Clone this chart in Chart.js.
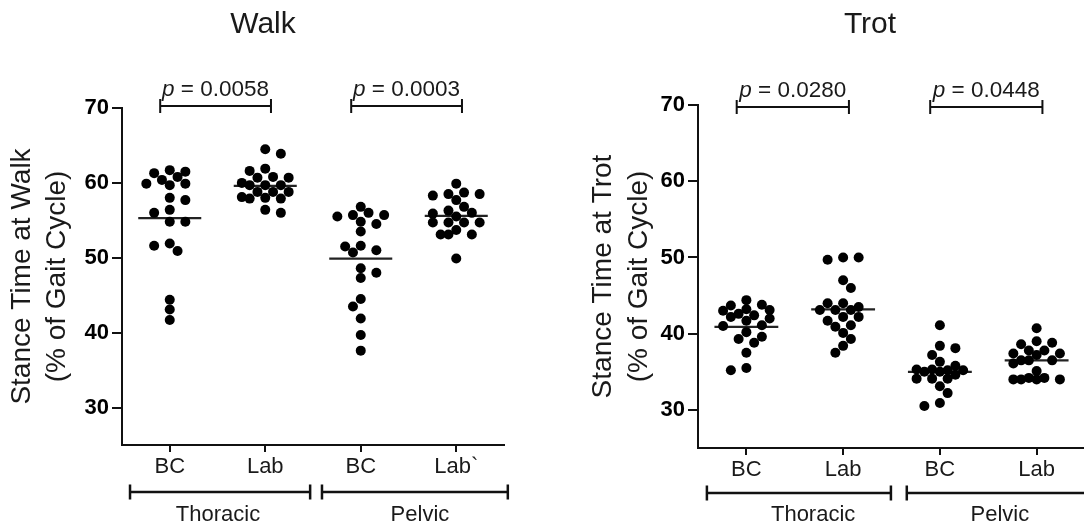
<!DOCTYPE html>
<html><head><meta charset="utf-8">
<script src="https://cdn.jsdelivr.net/npm/chart.js@4/dist/chart.umd.min.js"></script>
<style>
html,body{margin:0;padding:0;background:#fff;overflow:hidden;width:1084px;height:525px;position:relative}
#cw{position:absolute;left:0;top:0}
#ct{position:absolute;left:540px;top:0}
</style></head><body>
<canvas id="cw" width="540" height="525" style="width:540px;height:525px"></canvas>
<canvas id="ct" width="550" height="525" style="width:550px;height:525px"></canvas>
<script>
// ---------- data ----------
const categoryLabels = ['BC', 'Lab', 'BC', 'Lab'];
const walkCategoryLabels = ['BC', 'Lab', 'BC', 'Lab`'];
const regionLabels = ['Thoracic', 'Pelvic'];
const yTicks = [30, 40, 50, 60, 70];

const walkThoracicBC  = [61.3, 61.7, 61.5, 60.8, 59.7, 60.4, 59.9, 59.9, 57.7, 58.0, 56.4, 56.0, 54.8, 54.8, 51.9, 50.9, 51.6, 44.4, 43.1, 41.7];
const walkThoracicLab = [64.5, 63.9, 61.9, 61.6, 60.8, 60.7, 60.7, 59.7, 60.0, 59.7, 59.7, 58.8, 58.8, 58.8, 57.9, 58.0, 58.1, 57.9, 56.0, 56.4];
const walkPelvicBC    = [56.8, 56.0, 55.5, 55.7, 55.7, 54.5, 54.8, 53.5, 51.5, 50.7, 51.0, 51.6, 48.0, 47.3, 48.6, 44.5, 43.5, 41.9, 39.7, 37.6];
const walkPelvicLab   = [59.9, 58.5, 58.3, 58.7, 58.5, 57.7, 56.8, 56.3, 56.0, 55.5, 55.9, 54.7, 54.7, 54.7, 54.7, 53.7, 53.1, 53.1, 53.1, 49.9];
const walkMeans = [55.3, 59.6, 49.9, 55.6];
const walkPValues = ['0.0058', '0.0003'];

const trotThoracicBC  = [44.4, 43.1, 43.8, 43.2, 42.6, 42.0, 43.7, 43.0, 42.2, 42.4, 41.1, 40.2, 41.0, 41.7, 39.6, 38.8, 39.3, 37.5, 35.2, 35.5];
const trotThoracicLab = [50.0, 49.7, 50.0, 47.0, 46.0, 44.0, 44.0, 43.1, 43.1, 43.1, 43.5, 42.2, 42.2, 41.7, 41.1, 40.9, 40.1, 39.3, 38.4, 37.5];
const trotPelvicBC    = [41.1, 38.4, 38.1, 37.2, 36.3, 35.2, 35.3, 35.2, 35.3, 35.0, 35.8, 34.6, 34.1, 34.1, 34.1, 33.1, 32.2, 30.5, 30.9, 35.0];
const trotPelvicLab   = [40.7, 39.0, 38.8, 38.6, 37.8, 37.8, 37.4, 37.4, 37.2, 36.5, 36.5, 36.5, 36.1, 35.1, 34.2, 34.0, 34.0, 34.0, 34.0, 34.2];
const trotMeans = [40.9, 43.2, 35.0, 36.5];
const trotPValues = ['0.0280', '0.0448'];

// ---------- helpers ----------
const FONT = '"Liberation Sans", Arial, Helvetica, sans-serif';
const TXT = '#1a1a1a';

// bounded beeswarm layout (x offsets computed from values, in pixel space)
function swarm(values, center, pxX, pxY) {
  const half = 7.8, minD = 9.6, maxK = 3;
  const order = values.map((v, i) => i).sort((a, b) => values[b] - values[a]);
  const placed = [], out = [];
  let flip = 1;
  const minDist = (px, py) => placed.reduce((m, p) => Math.min(m, Math.hypot(p.px - px, p.py - py)), Infinity);
  for (const i of order) {
    const v = values[i], py = v * pxY;
    let found = null;
    for (let k = 0; k <= maxK && found === null; k++) {
      const cands = k === 0 ? [0] : [flip * k, -flip * k];
      for (const c of cands) {
        if (minDist(c * half, py) >= minD) { found = c * half; break; }
      }
    }
    if (found === null) {
      let best = -1;
      for (let c = -maxK; c <= maxK; c++) {
        const d = minDist(c * half, py);
        if (d > best) { best = d; found = c * half; }
      }
    }
    placed.push({ px: found, py });
    out.push({ x: center + found / pxX, y: v });
    if (found !== 0) flip = -flip;
  }
  return out;
}

const annot = {
  id: 'annot',
  afterDraw(chart, args, o) {
    const ctx = chart.ctx, xs = chart.scales.x;
    ctx.save();
    ctx.fillStyle = TXT; ctx.strokeStyle = '#111';
    // title
    ctx.font = '30px ' + FONT;
    ctx.textAlign = 'center'; ctx.textBaseline = 'alphabetic';
    ctx.fillText(o.title, o.titleX, 33);
    // p-value brackets
    ctx.lineWidth = 2;
    o.pvals.forEach((pv, i) => {
      const a = 1 + 2 * i, b = 2 + 2 * i;
      const x1 = xs.getPixelForValue(a - 0.1), x2 = xs.getPixelForValue(b + 0.06);
      const yy = o.pY;
      ctx.beginPath();
      ctx.moveTo(x1, yy); ctx.lineTo(x2, yy);
      ctx.moveTo(x1, yy - 7); ctx.lineTo(x1, yy + 7);
      ctx.moveTo(x2, yy - 7); ctx.lineTo(x2, yy + 7);
      ctx.stroke();
      ctx.font = 'italic 22.5px ' + FONT;
      const pW = ctx.measureText('p').width;
      ctx.font = '22.5px ' + FONT;
      const rest = ' = ' + pv;
      const rW = ctx.measureText(rest).width;
      const cx = (x1 + x2) / 2, start = cx - (pW + rW) / 2;
      ctx.textAlign = 'left';
      ctx.font = 'italic 22.5px ' + FONT;
      ctx.fillText('p', start, yy - 10);
      ctx.font = '22.5px ' + FONT;
      ctx.fillText(rest, start + pW, yy - 10);
    });
    // region brackets
    ctx.lineWidth = 2.5;
    o.regions.forEach((r, i) => {
      const x1 = xs.getPixelForValue(r.from), x2 = xs.getPixelForValue(r.to);
      const yy = o.rY;
      ctx.beginPath();
      ctx.moveTo(x1, yy); ctx.lineTo(x2, yy);
      ctx.moveTo(x1, yy - 7.5); ctx.lineTo(x1, yy + 7.5);
      ctx.moveTo(x2, yy - 7.5); ctx.lineTo(x2, yy + 7.5);
      ctx.stroke();
      ctx.font = '22px ' + FONT;
      ctx.textAlign = 'center';
      ctx.fillText(regionLabels[i], xs.getPixelForValue(r.labelAt), 521);
    });
    ctx.restore();
  }
};

function makeChart(id, groups, means, labels, opts) {
  const datasets = [];
  groups.forEach((vals, gi) => {
    datasets.push({
      type: 'scatter',
      data: swarm(vals, gi + 1, opts.pxX, opts.pxY),
      backgroundColor: '#000', borderWidth: 0,
      pointRadius: 5, pointHoverRadius: 5
    });
  });
  means.forEach((m, gi) => {
    datasets.push({
      type: 'line',
      data: [{ x: gi + 1 - 0.33, y: m }, { x: gi + 1 + 0.33, y: m }],
      borderColor: '#222', borderWidth: 2.2, pointRadius: 0, fill: false
    });
  });
  return new Chart(document.getElementById(id), {
    type: 'scatter',
    data: { datasets },
    options: {
      responsive: false, animation: false, devicePixelRatio: 1,
      layout: { padding: { left: 0, right: opts.padRight, top: opts.top, bottom: 0 } },
      plugins: { legend: { display: false }, tooltip: { enabled: false }, annot: opts.annot },
      scales: {
        x: {
          type: 'linear', min: 0.5, max: 4.5,
          afterBuildTicks: s => { s.ticks = [1, 2, 3, 4].map(v => ({ value: v })); },
          afterFit: s => { s.height = opts.xHeight; },
          ticks: { callback: v => labels[v - 1], color: TXT, font: { family: FONT, size: 22 }, padding: 2, maxRotation: 0, autoSkip: false },
          grid: { display: true, drawOnChartArea: false, drawTicks: true, tickLength: 7, color: '#111', lineWidth: 2 },
          border: { display: true, color: '#111', width: 2 }
        },
        y: {
          min: 25, max: 70,
          afterBuildTicks: s => { s.ticks = yTicks.map(v => ({ value: v })); },
          afterFit: s => { s.width = opts.yWidth; },
          ticks: { color: '#000', font: { family: FONT, size: 22, weight: 'bold' }, padding: 3 },
          grid: { display: true, drawOnChartArea: false, drawTicks: true, tickLength: 10, color: '#111', lineWidth: 2 },
          border: { display: true, color: '#111', width: 2 },
          title: {
            display: true, text: opts.yTitle, color: TXT,
            font: { family: FONT, size: 28, lineHeight: opts.yLineHeight },
            padding: { top: opts.yTitlePad, bottom: 0 }
          }
        }
      }
    },
    plugins: [annot]
  });
}

makeChart('cw', [walkThoracicBC, walkThoracicLab, walkPelvicBC, walkPelvicLab], walkMeans, walkCategoryLabels, {
  pxX: 95.5, pxY: 7.49, padRight: 36, top: 108, xHeight: 80, yWidth: 122,
  yTitle: ['Stance Time at Walk', '(% of Gait Cycle)'], yLineHeight: 1.25, yTitlePad: 5,
  annot: { title: 'Walk', titleX: 263, pvals: walkPValues, pY: 106,
    rY: 492, regions: [{ from: 0.584, to: 2.47, labelAt: 1.505 }, { from: 2.594, to: 4.54, labelAt: 3.62 }] }
});

makeChart('ct', [trotThoracicBC, trotThoracicLab, trotPelvicBC, trotPelvicLab], trotMeans, categoryLabels, {
  pxX: 97.3, pxY: 7.62, padRight: 3, top: 105, xHeight: 77, yWidth: 158,
  yTitle: ['Stance Time at Trot', '(% of Gait Cycle)'], yLineHeight: 1.3, yTitlePad: 45,
  annot: { title: 'Trot', titleX: 330, pvals: trotPValues, pY: 107,
    rY: 493, regions: [{ from: 0.592, to: 2.494, labelAt: 1.69 }, { from: 2.658, to: 4.8, labelAt: 3.62 }] }
});
</script>
</body></html>
